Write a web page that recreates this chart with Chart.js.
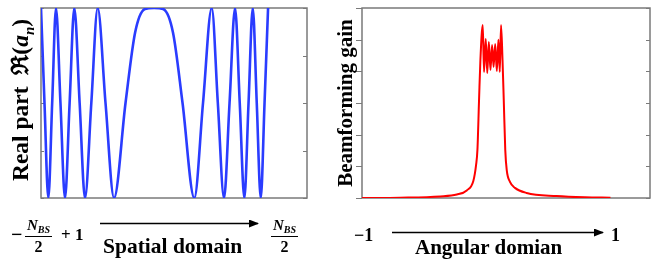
<!DOCTYPE html>
<html>
<head>
<meta charset="utf-8">
<script src="https://cdn.jsdelivr.net/npm/chart.js@4.4.1/dist/chart.umd.min.js"></script>
<style>
  body { margin: 0; background: #fff; }
  #wrap { position: relative; width: 664px; height: 264px; overflow: hidden;
          font-family: "Liberation Serif", "DejaVu Serif", serif; font-weight: bold; color: #000; }
  canvas { position: absolute; top: 0; }
  .lbl { position: absolute; white-space: nowrap; line-height: 1; }
  .ylab { transform: translate(-50%, -50%) rotate(-90deg); transform-origin: center; }
  .frac { position: absolute; display: flex; flex-direction: column; align-items: center; line-height: 1; }
  .frac .num { font-size: 15px; font-style: italic; padding: 0 2px 1px 2px; border-bottom: 1.5px solid #000; }
  .frac .num sub { font-size: 10px; vertical-align: -3px; }
  .frac .den { font-size: 16px; padding-top: 2px; }
</style>
</head>
<body>
<div id="wrap">
  <canvas id="spatial" width="320" height="210" style="left:0"></canvas>
  <canvas id="angular" width="334" height="210" style="left:330px"></canvas>

  <div class="lbl ylab" style="left:23px;top:100px;font-size:23.5px">Real part&nbsp; ℜ(<i>a</i><sub style="font-size:15px"><i>n</i></sub>)</div>
  <div class="lbl ylab" style="left:345px;top:103px;font-size:21px">Beamforming gain</div>

  <div class="lbl" style="left:11px;top:224px;font-size:20px">−</div>
  <div class="frac" style="left:25px;top:218px"><span class="num">N<sub>BS</sub></span><span class="den">2</span></div>
  <div class="lbl" style="left:61px;top:226px;font-size:17px">+ 1</div>
  <svg style="position:absolute;left:0;top:0" width="664" height="264">
    <defs>
      <marker id="ah" markerWidth="10" markerHeight="8" refX="9" refY="4" orient="auto" markerUnits="userSpaceOnUse">
        <path d="M0,0 L10,4 L0,8 Z" fill="#000"/>
      </marker>
    </defs>
    <line x1="100" y1="223.5" x2="258" y2="223.5" stroke="#000" stroke-width="1.3" marker-end="url(#ah)"/>
    <line x1="392" y1="232.5" x2="603" y2="232.5" stroke="#000" stroke-width="1.3" marker-end="url(#ah)"/>
  </svg>
  <div class="lbl" style="left:103px;top:236px;font-size:21.5px">Spatial domain</div>
  <div class="frac" style="left:271px;top:218px"><span class="num">N<sub>BS</sub></span><span class="den">2</span></div>

  <div class="lbl" style="left:354px;top:226px;font-size:18px">−1</div>
  <div class="lbl" style="left:611px;top:226px;font-size:18px">1</div>
  <div class="lbl" style="left:415px;top:237px;font-size:21px">Angular domian</div>
</div>

<script>
// left panel: real part of the coefficients along the array index
var spatialN = [-31, -30.03, -28.97, -27.9, -26.84, -25.6, -24.34, -23.06, -21.76, -20.28, -18.79, -17.04, -15.27, -13.1, -10.74, -7.55, -4.9, -2.14, 0.36, 2.86, 5.63, 8.27, 11.54, 13.95, 16.37, 18.06, 19.78, 21.31, 22.84, 24.14, 25.42, 26.58, 27.75, 28.86, 29.97, 31.02, 32];
var realPart = [1, 0, -1, 0, 1, 0, -1, 0, 1, 0, -1, 0, 1, 0, -1, 0, 0.74, 0.99, 1, 0.99, 0.74, 0, -1, 0, 1, 0, -1, 0, 1, 0, -1, 0, 1, 0, -1, 0, 1];

// right panel: beamforming gain over the angular domain
var angle = [-1, -0.692, -0.371, -0.237, -0.157, -0.104, -0.082, -0.071, -0.058, -0.047, -0.028,
  -0.018, -0.004, 0.008, 0.021, 0.034, 0.047, 0.059, 0.072, 0.085, 0.098, 0.109,
  0.119, 0.131, 0.141, 0.153, 0.165, 0.191, 0.231, 0.325, 0.566, 0.794, 1];
var gain = [0, 0.01, 0.05, 0.11, 0.24, 0.54, 1.04, 1.52, 3.09, 4.36, 5.46,
  3.98, 5.02, 3.95, 4.93, 4.04, 4.83, 4.14, 4.86, 4.01, 5.0, 3.98,
  5.46, 4.36, 3.09, 1.52, 0.88, 0.51, 0.32, 0.16, 0.06, 0.02, 0.01];

var yTicksSpatial = [-1, -0.5, 0, 0.5, 1];
var yTicksGain = [0, 1, 2, 3, 4, 5, 6];

function toPoints(xs, ys) {
  return xs.map(function (x, i) { return { x: x, y: ys[i] }; });
}

// box frame + short y tick marks, placed with the y scale
var frameTicks = {
  id: 'frameTicks',
  beforeDatasetsDraw: function (chart, args, opts) {
    var ctx = chart.ctx, a = chart.chartArea, ys = chart.scales.y;
    ctx.save();
    ctx.strokeStyle = '#7a7a7a';
    ctx.lineWidth = 1.5;
    ctx.strokeRect(a.left, a.top, a.right - a.left, a.bottom - a.top);
    ctx.lineWidth = 1.2;
    opts.values.forEach(function (v) {
      var py = Math.round(ys.getPixelForValue(v)) + 0.5;
      ctx.beginPath();
      ctx.moveTo(a.left - opts.outer, py);
      ctx.lineTo(a.left + opts.inner, py);
      ctx.moveTo(a.right - 4, py);
      ctx.lineTo(a.right, py);
      ctx.stroke();
    });
    ctx.restore();
  }
};

var ctxS = document.getElementById('spatial').getContext('2d');
var spatialChart = new Chart(ctxS, {
  type: 'line',
  data: {
    datasets: [{
      data: toPoints(spatialN, realPart),
      borderColor: '#2a3cff',
      borderWidth: 2.6,
      pointRadius: 0,
      fill: false,
      cubicInterpolationMode: 'monotone'
    }]
  },
  options: {
    responsive: false,
    devicePixelRatio: 1,
    animation: false,
    layout: { padding: { left: 41, top: 8, right: 13, bottom: 12 } },
    plugins: {
      legend: { display: false },
      tooltip: { enabled: false },
      frameTicks: { values: yTicksSpatial, outer: 0, inner: 3 }
    },
    scales: {
      x: { type: 'linear', display: false, min: -31, max: 42.8 },
      y: { type: 'linear', display: false, min: -1, max: 1 }
    }
  },
  plugins: [frameTicks]
});

var ctxA = document.getElementById('angular').getContext('2d');
var angularChart = new Chart(ctxA, {
  type: 'line',
  data: {
    datasets: [{
      data: toPoints(angle, gain),
      borderColor: '#ff0000',
      borderWidth: 2,
      pointRadius: 0,
      fill: false,
      cubicInterpolationMode: 'monotone'
    }]
  },
  options: {
    responsive: false,
    devicePixelRatio: 1,
    animation: false,
    layout: { padding: { left: 32, top: 8, right: 14, bottom: 12 } },
    plugins: {
      legend: { display: false },
      tooltip: { enabled: false },
      frameTicks: { values: yTicksGain, outer: 6, inner: 0 }
    },
    scales: {
      x: { type: 'linear', display: false, min: -1, max: 1.318 },
      y: { type: 'linear', display: false, min: 0, max: 6 }
    }
  },
  plugins: [frameTicks]
});
</script>
</body>
</html>
